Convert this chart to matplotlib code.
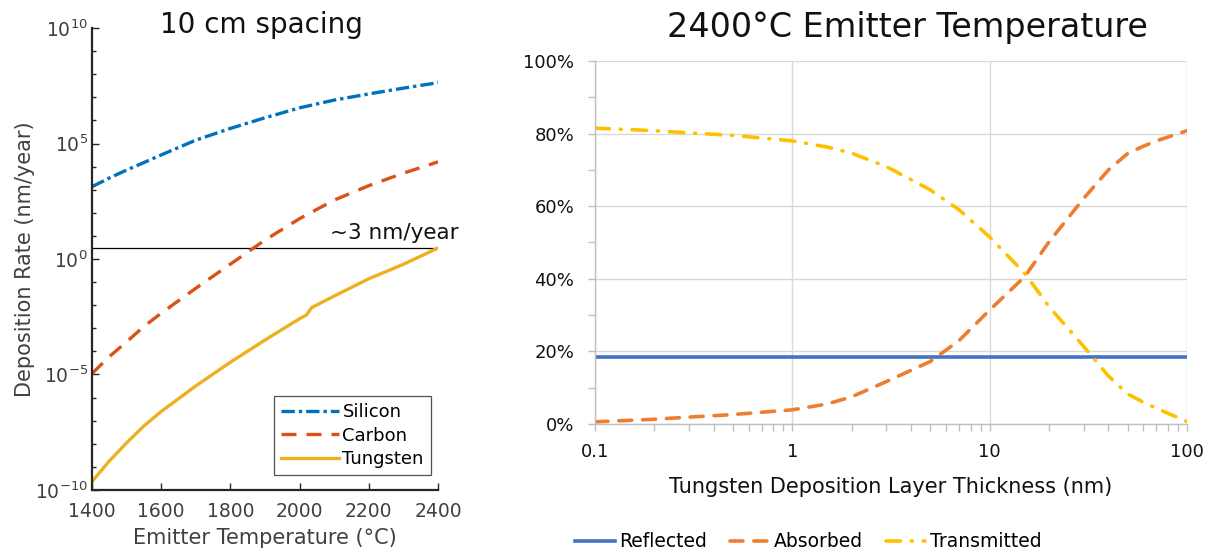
import numpy as np
import matplotlib
matplotlib.use("Agg")
import matplotlib.pyplot as plt
from matplotlib.ticker import FixedLocator, FuncFormatter, LogFormatterMathtext, NullFormatter

plt.rcParams["font.family"] = ["DejaVu Sans"]
plt.rcParams["axes.unicode_minus"] = False

# ---- left panel data: deposition rate (nm/year) vs emitter temperature (C)
temp = [1400, 1450, 1500, 1550, 1600, 1700, 1800, 1900, 2000, 2100, 2200, 2300, 2400]
silicon = [1.35e3, 3.2e3, 7.1e3, 1.5e4, 3.2e4, 1.4e5, 4.5e5, 1.3e6, 3.5e6, 7.6e6,
           1.4e7, 2.5e7, 4.3e7]
carbon = [1.1e-5, 5.9e-5, 2.6e-4, 1.2e-3, 4.5e-3, 5.4e-2, 0.6, 6.6, 56, 355, 1.5e3,
          5.2e3, 1.6e4]
temp_w = [1400, 1450, 1500, 1550, 1600, 1700, 1800, 1900, 2000, 2020, 2035, 2100,
          2200, 2300, 2400]
tungsten = [2.3e-10, 1.8e-9, 1.1e-8, 5.9e-8, 2.5e-7, 3.2e-6, 3.4e-5, 3.1e-4, 2.6e-3,
            3.8e-3, 7.9e-3, 2.5e-2, 0.14, 0.59, 3.0]
target_rate = 3.0

# ---- right panel data: optical fractions vs deposited tungsten thickness (nm)
thickness = [0.1, 0.2, 0.3, 0.5, 1, 1.5, 2, 3, 5, 7, 10, 15, 20, 30, 40, 50, 60, 70, 100]
reflected = [0.184] * len(thickness)
absorbed = [0.006, 0.013, 0.019, 0.026, 0.039, 0.055, 0.075, 0.117, 0.172, 0.23, 0.314,
            0.405, 0.502, 0.622, 0.700, 0.745, 0.765, 0.78, 0.808]
transmitted = [0.815, 0.808, 0.802, 0.795, 0.78, 0.763, 0.746, 0.709, 0.645, 0.59, 0.515,
               0.416, 0.323, 0.213, 0.132, 0.083, 0.06, 0.043, 0.007]

fig = plt.figure(figsize=(12.12, 5.57), dpi=100)

# ================= left: 10 cm spacing =================
ax1 = fig.add_axes([0.0759, 0.1203, 0.2855, 0.8294])
c_si, c_c, c_w = "#0072BD", "#D95319", "#EDB120"
ax1.plot(temp, silicon, color=c_si, lw=2.4, ls=(0, (4, 1.2, 1, 1.2)), label="Silicon")
ax1.plot(temp, carbon, color=c_c, lw=2.4, ls=(0, (4.5, 3)), label="Carbon")
ax1.plot(temp_w, tungsten, color=c_w, lw=2.4, label="Tungsten")
ax1.axhline(target_rate, color="black", lw=0.9, zorder=1)
ax1.text(2088, target_rate * 1.7, "~3 nm/year", ha="left", va="bottom",
         fontsize=15.5, color="#111111", clip_on=False)

ax1.set_yscale("log")
ax1.set_xlim(1400, 2400)
ax1.set_ylim(1e-10, 1e10)
ax1.set_xticks(range(1400, 2401, 200))
ax1.yaxis.set_major_locator(FixedLocator([1e-10, 1e-5, 1e0, 1e5, 1e10]))
ax1.yaxis.set_minor_locator(FixedLocator([10.0 ** k for k in range(-10, 11)]))
ax1.yaxis.set_major_formatter(LogFormatterMathtext())
ax1.yaxis.set_minor_formatter(NullFormatter())
for s in ("top", "right"):
    ax1.spines[s].set_visible(False)
for s in ("left", "bottom"):
    ax1.spines[s].set_linewidth(1.6)
    ax1.spines[s].set_color("#262626")
ax1.tick_params(which="both", direction="in", colors="#262626", labelcolor="#404040",
                labelsize=13.5, width=1.0)
ax1.tick_params(which="major", length=5)
ax1.tick_params(which="minor", length=3)
ax1.tick_params(axis="x", pad=9)
ax1.tick_params(axis="y", pad=3)
ax1.set_xlabel("Emitter Temperature (°C)", fontsize=15, color="#404040", labelpad=5)
ax1.set_ylabel("Deposition Rate (nm/year)", fontsize=15, color="#404040", labelpad=0)
fig.text(0.216, 0.955, "10 cm spacing", ha="center", va="center", fontsize=20,
         color="#111111")
leg1 = ax1.legend(loc="lower right", bbox_to_anchor=(0.98, 0.032), borderaxespad=0,
                  fontsize=13, frameon=True, fancybox=False, edgecolor="#262626",
                  handlelength=3.2, handletextpad=0.2, borderpad=0.4, labelspacing=0.3)
leg1.get_frame().set_linewidth(0.9)

# ================= right: 2400C emitter temperature =================
ax2 = fig.add_axes([0.4909, 0.2388, 0.4885, 0.6517])
ax2.plot(thickness, reflected, color="#4472C4", lw=2.6, label="Reflected")
ax2.plot(thickness, absorbed, color="#ED7D31", lw=2.6, ls=(0, (3.6, 3.0)),
         dash_capstyle="round", label="Absorbed")
ax2.plot(thickness, transmitted, color="#FFC000", lw=2.6, ls=(0, (4.0, 3.0, 0.3, 3.0)),
         dash_capstyle="round", label="Transmitted")

ax2.set_xscale("log")
ax2.set_xlim(0.1, 100)
ax2.set_ylim(0, 1)
ax2.set_xticks([0.1, 1, 10, 100])
ax2.xaxis.set_major_formatter(FuncFormatter(lambda v, p: f"{v:g}"))
ax2.xaxis.set_minor_formatter(NullFormatter())
ax2.yaxis.set_major_locator(FixedLocator(np.arange(0, 1.01, 0.2)))
ax2.yaxis.set_minor_locator(FixedLocator(np.arange(0.1, 1.0, 0.2)))
ax2.yaxis.set_major_formatter(FuncFormatter(lambda v, p: f"{v * 100:.0f}%"))
ax2.grid(True, which="major", color="#d9d9d9", lw=1.0)
ax2.set_axisbelow(True)
for s in ("top", "right"):
    ax2.spines[s].set_visible(False)
for s in ("left", "bottom"):
    ax2.spines[s].set_color("#bfbfbf")
    ax2.spines[s].set_linewidth(1.0)
ax2.tick_params(which="both", direction="out", color="#bfbfbf", labelcolor="#111111",
                labelsize=13, length=5, width=1.0)
ax2.tick_params(axis="x", pad=9)
ax2.tick_params(axis="y", pad=10)
ax2.set_xlabel("Tungsten Deposition Layer Thickness (nm)", fontsize=15,
               color="#111111", labelpad=11)
fig.text(0.749, 0.951, "2400°C Emitter Temperature", ha="center", va="center",
         fontsize=24, color="#111111")
fig.legend(*ax2.get_legend_handles_labels(), loc="center", bbox_to_anchor=(0.667, 0.027),
           ncol=3, frameon=False, fontsize=13.5, handlelength=2.1, handletextpad=0.25,
           columnspacing=1.2)

fig.savefig("out.png", dpi=100)
